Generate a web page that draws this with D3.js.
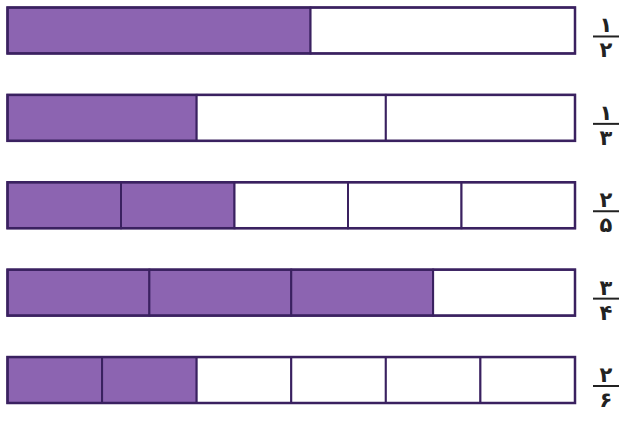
<!DOCTYPE html>
<html>
<head>
<meta charset="utf-8">
<script src="https://cdn.jsdelivr.net/npm/d3@7.9.0/dist/d3.min.js"></script>
<style>
  body { margin: 0; background: #fff; }
  svg { display: block; }
</style>
</head>
<body>
<div id="chart"></div>
<script>
// one row per fraction bar
const numerators = [1, 1, 2, 3, 2];
const denominators = [2, 3, 5, 4, 6];
const numLabels = ['۱', '۱', '۲', '۳', '۲'];
const denLabels = ['۲', '۳', '۵', '۴', '۶'];
// segment boundaries (the first bar's split is drawn a bit past the middle)
const splits = [
  [0, 0.534, 1],
  [0, 1 / 3, 2 / 3, 1],
  [0, 0.2, 0.4, 0.6, 0.8, 1],
  [0, 0.25, 0.5, 0.75, 1],
  [0, 1 / 6, 2 / 6, 3 / 6, 4 / 6, 5 / 6, 1],
];

const width = 621;
const height = 426;

const svg = d3.select('#chart')
  .append('svg')
  .attr('width', width)
  .attr('height', height);

const xScale = d3.scaleLinear().domain([0, 1]).range([7.5, 575]);
const yScale = d3.scaleBand()
  .domain(d3.range(numerators.length))
  .range([7.5, 403])
  .paddingInner(0.474)
  .paddingOuter(0);

const rows = svg.selectAll('g.row')
  .data(numerators.map((n, i) => ({ n, d: denominators[i], i })))
  .join('g')
  .attr('class', 'row')
  .attr('transform', (r) => `translate(0, ${yScale(r.i)})`);

// segments
rows.selectAll('rect.seg')
  .data((r) => d3.range(r.d).map((k) => ({
    a: splits[r.i][k],
    b: splits[r.i][k + 1],
    filled: k < r.n,
  })))
  .join('rect')
  .attr('class', 'seg')
  .attr('x', (s) => xScale(s.a))
  .attr('width', (s) => xScale(s.b) - xScale(s.a))
  .attr('y', 0)
  .attr('height', yScale.bandwidth())
  .attr('fill', (s) => (s.filled ? '#8c64b1' : '#fff'))
  .attr('stroke', '#3a2160')
  .attr('stroke-width', 2);

// outer border
rows.append('rect')
  .attr('x', xScale(0))
  .attr('width', xScale(1) - xScale(0))
  .attr('y', 0)
  .attr('height', yScale.bandwidth())
  .attr('fill', 'none')
  .attr('stroke', '#3a2160')
  .attr('stroke-width', 2.5);

// fraction labels
const fx = 606;
const labels = rows.append('g')
  .attr('transform', `translate(${fx}, ${yScale.bandwidth() / 2 + 6})`);

labels.append('line')
  .attr('x1', -13).attr('x2', 13)
  .attr('y1', 0).attr('y2', 0)
  .attr('stroke', '#222')
  .attr('stroke-width', 2);

labels.append('text')
  .attr('y', -4)
  .attr('text-anchor', 'middle')
  .attr('font-family', 'DejaVu Sans')
  .attr('font-weight', 'bold')
  .attr('font-size', 21)
  .attr('fill', '#222')
  .text((r) => numLabels[r.i]);

labels.append('text')
  .attr('y', 21)
  .attr('text-anchor', 'middle')
  .attr('font-family', 'DejaVu Sans')
  .attr('font-weight', 'bold')
  .attr('font-size', 21)
  .attr('fill', '#222')
  .text((r) => denLabels[r.i]);
</script>
</body>
</html>
